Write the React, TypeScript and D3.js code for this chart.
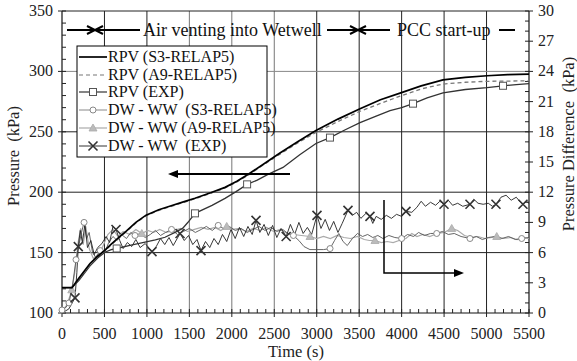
import React from "react";
import * as d3 from "d3";

// ---------- DATA ----------
const timeTicks = [0, 500, 1000, 1500, 2000, 2500, 3000, 3500, 4000, 4500, 5000, 5500];
const pressureTicks = [100, 150, 200, 250, 300, 350];
const diffTicks = [0, 3, 6, 9, 12, 15, 18, 21, 24, 27, 30];

// RPV pressure (kPa) vs time (s)
const rpvS3: [number, number][] = [
  [0, 121], [118, 121], [200, 129], [330, 141], [420, 147], [506, 152], [580, 157], [660, 162],
  [760, 168], [870, 175], [990, 181], [1140, 185.5], [1295, 189], [1430, 192], [1566, 195],
  [1750, 199.5], [1920, 204], [2060, 209], [2190, 214.7], [2380, 223.5], [2567, 232.5],
  [2780, 242], [2991, 251], [3250, 260.5], [3510, 269], [3750, 276.5], [3981, 282],
  [4230, 288], [4487, 293], [4750, 295], [5005, 296.4], [5250, 297.3], [5500, 297.8],
];
const rpvA9: [number, number][] = [
  [0, 121], [118, 121], [200, 128], [330, 140], [420, 146.5], [506, 151.5], [580, 156.5], [660, 161.5],
  [760, 167.5], [870, 174.5], [990, 180.5], [1140, 185], [1295, 188.5], [1430, 191.5], [1566, 194.5],
  [1750, 199], [1920, 203.5], [2060, 208.5], [2190, 214], [2380, 223], [2567, 231.5],
  [2780, 241], [2991, 249.5], [3250, 258.5], [3510, 267], [3750, 273.5], [3981, 279.5],
  [4230, 285.5], [4487, 289.5], [4750, 291], [5005, 291.8], [5250, 292], [5500, 292.2],
];
const rpvExp: [number, number][] = [
  [0, 121], [118, 121], [200, 127], [330, 139], [420, 145.5], [506, 150.3], [580, 152.5], [644, 153.4],
  [800, 156], [978, 158.6], [1100, 160.5], [1213, 162.7], [1331, 166.8], [1420, 170], [1484, 175.1],
  [1566, 182.5], [1767, 189.1], [1920, 194.9], [2050, 200.5], [2180, 206.5], [2300, 210],
  [2426, 214.7], [2603, 220.5], [2800, 231], [2991, 240.3], [3156, 245.2], [3330, 251.5],
  [3510, 257.6], [3700, 263], [3863, 267.5], [4000, 270], [4134, 273.3], [4300, 278],
  [4487, 282.3], [4750, 285], [5005, 286.5], [5194, 288.1], [5350, 289], [5500, 289.8],
];
const rpvExpMarkers: [number, number][] = [
  [644, 153.4], [1566, 182.5], [2180, 206.5], [3156, 245.2], [4134, 273.3], [5194, 288.1],
];

// DW - WW pressure difference (kPa) vs time (s)
const dwS3: [number, number][] = [
  [0, 0.3], [40, 0.5], [82, 1.0], [120, 2.5], [165, 5.3], [200, 6.8], [230, 8.0], [260, 9.0],
  [290, 7.4], [320, 8.0], [360, 6.0], [400, 5.5], [450, 6.2], [500, 5.9], [550, 7.0], [600, 7.6],
  [650, 7.2], [700, 7.8], [760, 7.4], [810, 8.0], [860, 7.7], [920, 7.9], [980, 7.5], [1040, 7.8],
  [1100, 8.2], [1160, 7.7], [1220, 8.0], [1290, 8.3], [1360, 7.8], [1430, 8.1], [1500, 8.4],
  [1570, 8.0], [1640, 8.3], [1700, 8.6], [1770, 8.2], [1840, 8.7], [1900, 8.4], [1970, 8.6],
  [2040, 8.2], [2110, 8.4], [2180, 8.0], [2250, 8.3], [2320, 8.6], [2390, 8.2], [2460, 8.5],
  [2530, 8.1], [2600, 8.3], [2660, 7.9], [2725, 7.7], [2790, 7.2], [2850, 6.6], [2920, 6.3],
  [3000, 6.3], [3080, 6.3], [3157, 6.4], [3210, 7.2], [3260, 7.9], [3310, 7.1], [3360, 6.7],
  [3420, 7.4], [3480, 7.9], [3540, 7.6], [3600, 7.8], [3660, 7.5], [3720, 7.7], [3780, 7.4],
  [3850, 7.7], [3920, 7.5], [4000, 7.4], [4070, 7.8], [4140, 7.6], [4200, 8.0], [4270, 7.7],
  [4340, 7.9], [4413, 7.9], [4480, 8.1], [4550, 7.8], [4620, 7.9], [4700, 7.6], [4805, 7.4],
  [4880, 7.6], [4950, 7.3], [5020, 7.5], [5100, 7.6], [5180, 7.4], [5260, 7.6], [5340, 7.3],
  [5414, 7.4], [5500, 7.5],
];
const dwS3Markers: [number, number][] = [
  [0, 0.3], [82, 1.0], [165, 5.3], [260, 9.0], [450, 6.2], [860, 7.7], [1290, 8.3], [1840, 8.7],
  [2725, 7.7], [3157, 6.4], [4000, 7.4], [4413, 7.9], [4805, 7.4], [5414, 7.4],
];
const dwA9: [number, number][] = [
  [0, 0.2], [60, 0.8], [115, 2.3], [150, 4.0], [190, 7.0], [220, 8.4], [250, 6.8], [280, 8.6],
  [320, 6.4], [370, 5.4], [420, 5.8], [480, 6.6], [540, 7.8], [600, 8.3], [660, 7.6], [720, 8.1],
  [800, 7.8], [870, 8.3], [940, 7.9], [1010, 8.2], [1080, 8.0], [1150, 8.3], [1230, 8.0],
  [1310, 8.2], [1400, 8.4], [1480, 8.1], [1560, 8.3], [1640, 8.5], [1720, 8.3], [1800, 8.5],
  [1870, 8.2], [1940, 8.6], [2010, 8.3], [2090, 8.4], [2170, 8.1], [2250, 8.4], [2330, 8.2],
  [2410, 8.5], [2490, 8.1], [2570, 8.3], [2650, 7.9], [2730, 7.8], [2820, 7.7], [2921, 7.6],
  [3000, 7.4], [3080, 7.6], [3160, 7.4], [3240, 7.7], [3320, 7.5], [3400, 7.4], [3480, 7.6],
  [3560, 7.3], [3620, 7.2], [3686, 7.2], [3760, 7.0], [3830, 7.1], [3900, 7.0], [3970, 7.2],
  [4050, 7.4], [4120, 7.9], [4180, 7.6], [4250, 7.8], [4330, 7.6], [4420, 7.9], [4500, 8.0],
  [4590, 8.4], [4660, 8.2], [4740, 7.7], [4820, 7.5], [4900, 7.6], [4980, 7.4], [5060, 7.5],
  [5120, 7.6], [5200, 7.4], [5280, 7.5], [5360, 7.3], [5440, 7.5], [5500, 7.4],
];
const dwA9Markers: [number, number][] = [
  [115, 2.3], [940, 7.9], [1940, 8.6], [2921, 7.6], [3686, 7.2], [4590, 8.4], [5120, 7.6],
];
const dwExp: [number, number][] = [
  [0, 0], [80, 0.4], [153, 1.5], [175, 4.0], [192, 6.6], [215, 8.2], [240, 7.0], [270, 8.8],
  [300, 6.5], [340, 7.2], [380, 5.8], [420, 6.5], [470, 6.9], [520, 7.6], [560, 7.0], [600, 8.6],
  [636, 8.3], [680, 7.2], [720, 6.4], [770, 7.0], [820, 6.6], [870, 7.3], [920, 6.5], [980, 6.9],
  [1060, 6.1], [1110, 6.6], [1160, 7.4], [1210, 6.8], [1260, 7.5], [1310, 6.7], [1390, 7.9],
  [1440, 7.2], [1490, 7.7], [1540, 6.8], [1590, 7.3], [1637, 6.2], [1690, 7.1], [1740, 6.5],
  [1790, 7.4], [1840, 6.8], [1890, 7.8], [1940, 7.1], [1990, 8.3], [2040, 7.4], [2090, 8.5],
  [2140, 7.6], [2190, 8.6], [2240, 7.8], [2285, 9.2], [2330, 8.0], [2380, 8.8], [2430, 7.7],
  [2480, 8.7], [2530, 7.5], [2580, 8.4], [2640, 7.6], [2690, 8.8], [2740, 7.8], [2790, 9.0],
  [2840, 7.9], [2890, 8.5], [2940, 7.8], [3003, 9.7], [3050, 8.4], [3100, 9.3], [3150, 8.2],
  [3200, 9.1], [3250, 8.0], [3300, 8.9], [3368, 10.2], [3420, 9.7], [3470, 10.0], [3520, 9.4],
  [3580, 9.9], [3627, 9.6], [3660, 8.9], [3700, 9.6], [3760, 9.3], [3820, 9.7], [3880, 9.4],
  [3940, 9.8], [4000, 9.6], [4051, 10.1], [4120, 10.0], [4180, 10.5], [4230, 11.1], [4280, 10.6],
  [4340, 11.0], [4400, 10.7], [4450, 11.1], [4499, 10.8], [4550, 11.2], [4600, 10.7], [4660, 10.9],
  [4720, 10.6], [4805, 10.8], [4850, 11.3], [4900, 10.9], [4960, 10.8], [5020, 10.9], [5070, 10.6],
  [5111, 10.8], [5170, 11.5], [5230, 11.7], [5290, 11.2], [5350, 11.5], [5400, 11.0], [5429, 10.8],
  [5470, 11.1], [5500, 10.9],
];
const dwExpMarkers: [number, number][] = [
  [153, 1.5], [192, 6.6], [636, 8.3], [1060, 6.1], [1390, 7.9], [1637, 6.2], [2285, 9.2],
  [2640, 7.6], [3003, 9.7], [3368, 10.2], [3627, 9.6], [4051, 10.1], [4499, 10.8], [4805, 10.8],
  [5111, 10.8], [5429, 10.8],
];

const legendLabels = [
  "RPV (S3-RELAP5)",
  "RPV (A9-RELAP5)",
  "RPV (EXP)",
  "DW - WW  (S3-RELAP5)",
  "DW - WW (A9-RELAP5)",
  "DW - WW  (EXP)",
];

// ---------- LAYOUT ----------
const W = 577, H = 361;
const L = 62, R = 529, T = 11, B = 313;
const FONT = "Liberation Serif, DejaVu Serif, serif";

const x = d3.scaleLinear().domain([0, 5500]).range([L, R]);
const yL = d3.scaleLinear().domain([100, 350]).range([B, T]);
const yR = d3.scaleLinear().domain([0, 30]).range([B, T]);

const lineL = d3.line<[number, number]>().x((d) => x(d[0])).y((d) => yL(d[1]));
const lineR = d3.line<[number, number]>().x((d) => x(d[0])).y((d) => yR(d[1]));

const Square = ({ cx, cy }: { cx: number; cy: number }) => (
  <rect x={cx - 3.5} y={cy - 3.5} width={7} height={7} fill="white" stroke="#555" strokeWidth={1} />
);
const Circle = ({ cx, cy }: { cx: number; cy: number }) => (
  <circle cx={cx} cy={cy} r={3} fill="white" stroke="#888" strokeWidth={1} />
);
const Tri = ({ cx, cy }: { cx: number; cy: number }) => (
  <path d={`M${cx},${cy - 4}L${cx + 4},${cy + 3}L${cx - 4},${cy + 3}Z`} fill="#bbb" stroke="#aaa" strokeWidth={0.8} />
);
const Cross = ({ cx, cy }: { cx: number; cy: number }) => (
  <path d={`M${cx - 4.5},${cy - 4.5}L${cx + 4.5},${cy + 4.5}M${cx - 4.5},${cy + 4.5}L${cx + 4.5},${cy - 4.5}`} stroke="#333" strokeWidth={1.6} />
);

const txt = { fontFamily: FONT, whiteSpace: "pre" as const };

export default function App() {
  const minorT = d3.range(0, 5501, 100);
  const minorP = d3.range(100, 351, 10);
  const minorD = d3.range(0, 31, 1);
  const legendY = [57, 75, 92, 110, 128, 146];
  const annY = 30;

  return (
    <svg width={W} height={H} style={{ position: "absolute", left: 0, top: 0, background: "white", fontFamily: FONT }}>
      <rect x={0} y={0} width={W} height={H} fill="white" />
      {/* grid */}
      {timeTicks.filter((t) => t > 0 && t < 5500).map((t) => (
        <line key={"gx" + t} x1={x(t)} x2={x(t)} y1={T} y2={B}
          stroke={t >= 1500 && t <= 2500 ? "#777" : "#222"} strokeWidth={1} />
      ))}
      {pressureTicks.filter((p) => p > 100).map((p) => (
        <line key={"gy" + p} x1={L} x2={R} y1={yL(p)} y2={yL(p)}
          stroke={p === 300 ? "#888" : "#222"} strokeWidth={1} />
      ))}
      {/* axes frame */}
      <line x1={L} x2={L} y1={T} y2={B} stroke="#111" strokeWidth={1.2} />
      <line x1={R} x2={R} y1={T} y2={B} stroke="#111" strokeWidth={1.2} />
      <line x1={L} x2={R} y1={B} y2={B} stroke="#111" strokeWidth={1.2} />
      {/* minor ticks */}
      {minorT.map((t) => (
        <line key={"mt" + t} x1={x(t)} x2={x(t)} y1={B} y2={B - 4} stroke="#222" strokeWidth={1} />
      ))}
      {timeTicks.map((t) => (
        <line key={"Mt" + t} x1={x(t)} x2={x(t)} y1={B} y2={B + 4} stroke="#222" strokeWidth={1} />
      ))}
      {minorP.map((p) => (
        <line key={"mp" + p} x1={L} x2={L + 4} y1={yL(p)} y2={yL(p)} stroke="#222" strokeWidth={1} />
      ))}
      {pressureTicks.map((p) => (
        <line key={"Mp" + p} x1={L - 4} x2={L} y1={yL(p)} y2={yL(p)} stroke="#222" strokeWidth={1} />
      ))}
      {minorD.map((d) => (
        <line key={"md" + d} x1={R - 4} x2={R} y1={yR(d)} y2={yR(d)} stroke="#222" strokeWidth={1} />
      ))}
      {diffTicks.map((d) => (
        <line key={"Md" + d} x1={R} x2={R + 4} y1={yR(d)} y2={yR(d)} stroke="#222" strokeWidth={1} />
      ))}
      {/* tick labels */}
      {timeTicks.map((t) => (
        <text key={"lt" + t} x={x(t)} y={339} fontSize={16} textAnchor="middle" fill="#222" style={txt}>{t}</text>
      ))}
      {pressureTicks.map((p) => (
        <text key={"lp" + p} x={53} y={yL(p) + 5} fontSize={16} textAnchor="end" fill="#222" style={txt}>{p}</text>
      ))}
      {diffTicks.map((d) => (
        <text key={"ld" + d} x={538} y={yR(d) + 5} fontSize={16} textAnchor="start" fill="#222" style={txt}>{d}</text>
      ))}
      {/* axis titles */}
      <text x={296} y={357} fontSize={16.5} textAnchor="middle" fill="#222" style={txt}>Time (s)</text>
      <text transform={`translate(19,156) rotate(-90)`} fontSize={16.5} textAnchor="middle" fill="#222" style={txt}>Pressure  (kPa)</text>
      <text transform={`translate(574,144) rotate(-90)`} fontSize={16.5} textAnchor="middle" fill="#222" style={txt}>Pressure Difference  (kPa)</text>

      {/* data: DW-WW */}
      <path d={lineR(dwA9) || ""} fill="none" stroke="#aaa" strokeWidth={1.2} />
      <path d={lineR(dwS3) || ""} fill="none" stroke="#555" strokeWidth={0.9} />
      <path d={lineR(dwExp) || ""} fill="none" stroke="#222" strokeWidth={0.9} />
      {dwS3Markers.map((d, i) => <Circle key={"cs" + i} cx={x(d[0])} cy={yR(d[1])} />)}
      {dwA9Markers.map((d, i) => <Tri key={"ta" + i} cx={x(d[0])} cy={yR(d[1])} />)}
      {dwExpMarkers.map((d, i) => <Cross key={"xe" + i} cx={x(d[0])} cy={yR(d[1])} />)}

      {/* data: RPV */}
      <path d={lineL(rpvExp) || ""} fill="none" stroke="#333" strokeWidth={1.3} />
      <path d={lineL(rpvA9) || ""} fill="none" stroke="#777" strokeWidth={1.3} strokeDasharray="4,3" />
      <path d={lineL(rpvS3) || ""} fill="none" stroke="#000" strokeWidth={1.7} />
      {rpvExpMarkers.map((d, i) => <Square key={"sq" + i} cx={x(d[0])} cy={yL(d[1])} />)}

      {/* arrows inside plot */}
      <line x1={290} x2={176} y1={174} y2={174} stroke="#000" strokeWidth={2} />
      <path d="M168,174L178,170L178,178Z" fill="#000" />
      <path d="M384,200L384,273L456,273" fill="none" stroke="#000" strokeWidth={1.5} />
      <path d="M464,273L454,269L454,277Z" fill="#000" />

      {/* top annotation */}
      <g stroke="#000" strokeWidth={2} fill="none">
        <line x1={67} x2={95} y1={annY} y2={annY} />
        <path d={`M87,${annY - 4}L95,${annY}L87,${annY + 4}`} />
        <path d={`M103,${annY - 4}L95,${annY}L103,${annY + 4}`} />
        <line x1={95} x2={140} y1={annY} y2={annY} />
        <line x1={327} x2={390} y1={annY} y2={annY} />
        <path d={`M350,${annY - 4}L358,${annY}L350,${annY + 4}`} />
        <path d={`M366,${annY - 4}L358,${annY}L366,${annY + 4}`} />
        <line x1={499} x2={515} y1={annY} y2={annY} />
      </g>
      <text x={143} y={annY + 6} fontSize={18} fill="#111" style={txt}>Air venting into Wetwell</text>
      <text x={397} y={annY + 6} fontSize={18} fill="#111" style={txt}>PCC start-up</text>

      {/* legend */}
      <rect x={77} y={46} width={190} height={111} fill="white" stroke="#000" strokeWidth={1} />
      {legendLabels.map((lab, i) => {
        const cy = legendY[i];
        const styles = [
          { stroke: "#000", w: 1.7, dash: undefined },
          { stroke: "#777", w: 1.2, dash: "4,3" },
          { stroke: "#333", w: 1.2, dash: undefined },
          { stroke: "#888", w: 1, dash: undefined },
          { stroke: "#aaa", w: 1.2, dash: undefined },
          { stroke: "#333", w: 1, dash: undefined },
        ][i];
        return (
          <g key={"lg" + i}>
            <line x1={79} x2={107} y1={cy} y2={cy} stroke={styles.stroke} strokeWidth={styles.w} strokeDasharray={styles.dash} />
            {i === 2 && <Square cx={93} cy={cy} />}
            {i === 3 && <Circle cx={93} cy={cy} />}
            {i === 4 && <Tri cx={93} cy={cy} />}
            {i === 5 && <Cross cx={93} cy={cy} />}
            <text x={108} y={cy + 5} fontSize={16} fill="#111" style={txt}>{lab}</text>
          </g>
        );
      })}
    </svg>
  );
}
